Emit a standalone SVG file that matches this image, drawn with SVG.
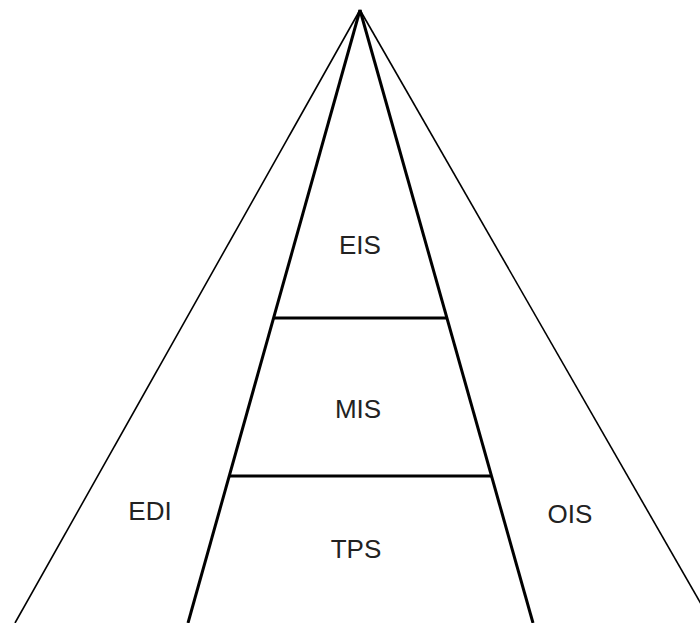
<svg xmlns="http://www.w3.org/2000/svg" width="700" height="623" viewBox="0 0 700 623">
<style>
.outer{stroke:#000;stroke-width:1.6;fill:none}
.inner{stroke:#000;stroke-width:3;fill:none}
.lbl{font-family:"Liberation Sans",Arial,sans-serif;font-size:26px;fill:#222;text-anchor:middle}
</style>
<rect width="700" height="623" fill="#fff"/>
<g id="connectors">
<line class="outer" x1="360" y1="10" x2="15" y2="623"/>
<line class="outer" x1="360" y1="10" x2="712" y2="623"/>
<line class="inner" x1="360" y1="10" x2="188" y2="623"/>
<line class="inner" x1="360" y1="10" x2="533" y2="623"/>
<line class="inner" x1="274" y1="318" x2="446" y2="318"/>
<line class="inner" x1="229" y1="476" x2="492" y2="476"/>
</g>
<g id="EIS"><text class="lbl" x="360" y="254">EIS</text></g>
<g id="MIS"><text class="lbl" x="358" y="418">MIS</text></g>
<g id="TPS"><text class="lbl" x="356" y="558">TPS</text></g>
<g id="EDI"><text class="lbl" x="150" y="520">EDI</text></g>
<g id="OIS"><text class="lbl" x="570" y="523">OIS</text></g>
</svg>
